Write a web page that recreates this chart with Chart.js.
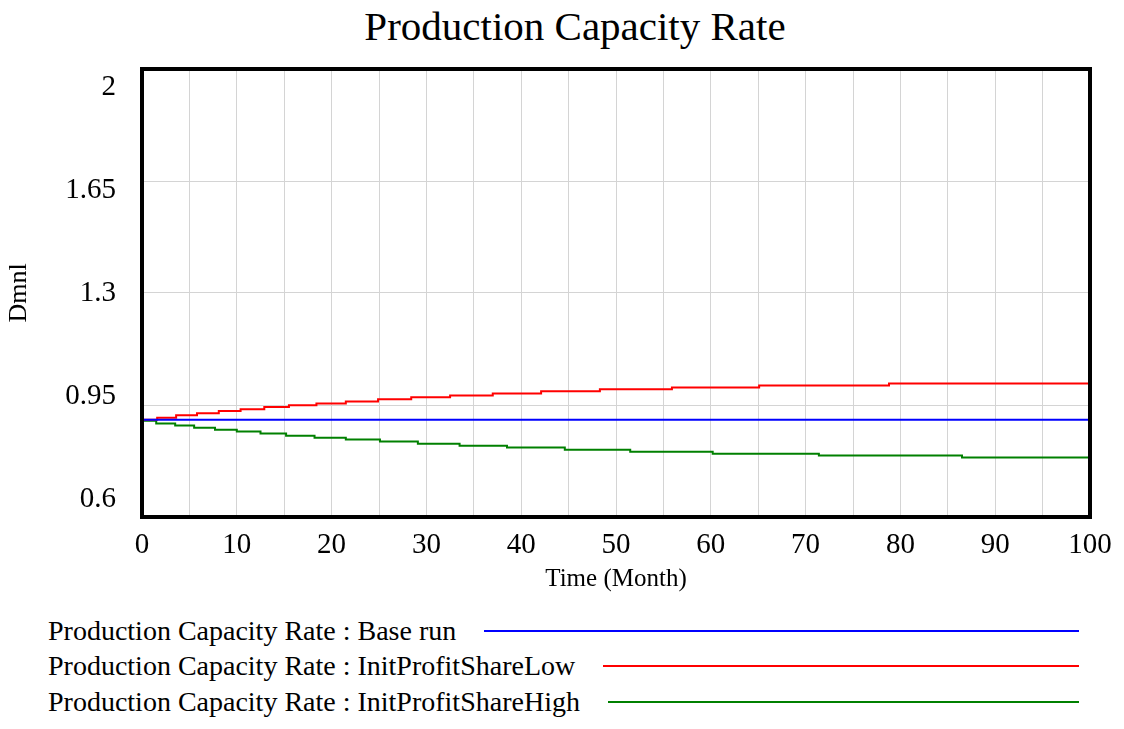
<!DOCTYPE html>
<html>
<head>
<meta charset="utf-8">
<script src="https://cdn.jsdelivr.net/npm/chart.js@4/dist/chart.umd.min.js"></script>
<style>
  body { margin: 0; background: #fff; width: 1124px; height: 729px; overflow: hidden; position: relative; font-family: "Liberation Serif", "Times New Roman", serif; }
  #title { position: absolute; left: 0; width: 1150px; top: 3px; text-align: center; font-size: 41px; line-height: 46px; color: #000; }
  #wrap { position: absolute; left: 0; top: 0; width: 1124px; height: 600px; }
  #legend { position: absolute; left: 48px; top: 613px; width: 1031px; font-size: 28px; color: #000; }
  .row { display: flex; align-items: center; height: 35.5px; }
  .row span.line { flex: 1; margin-left: 28px; height: 0; border-top: 2px solid; }
</style>
</head>
<body>
<div id="title">Production Capacity Rate</div>
<div id="wrap"><canvas id="chart"></canvas></div>
<div id="legend"></div>
<script>
// x axis: Time (Month)
const xMin = 0;
const xMax = 100;
const yTicks = [0.6, 0.95, 1.3, 1.65, 2];

// step times and the value after each step
const baseTimes = [0, 100];
const baseValues = [0.904, 0.904];

const lowTimes = [0, 1.6, 3.6, 5.8, 8.1, 10.4, 12.9, 15.5, 18.4, 21.5, 24.9, 28.4, 32.5, 37, 42.1, 48.3, 55.9, 65.1, 78.8, 100];
const lowValues = [0.904, 0.910, 0.918, 0.924, 0.931, 0.937, 0.944, 0.949, 0.955, 0.961, 0.968, 0.974, 0.980, 0.986, 0.993, 0.999, 1.005, 1.011, 1.017, 1.017];

const highTimes = [0, 1.5, 3.5, 5.5, 7.7, 10, 12.5, 15.2, 18.2, 21.5, 25.1, 29.1, 33.5, 38.5, 44.6, 51.5, 60.2, 71.4, 86.5, 100];
const highValues = [0.901, 0.892, 0.886, 0.879, 0.873, 0.867, 0.861, 0.854, 0.848, 0.842, 0.836, 0.829, 0.823, 0.817, 0.810, 0.804, 0.798, 0.792, 0.786, 0.786];

const seriesNames = [
  'Production Capacity Rate : Base run',
  'Production Capacity Rate : InitProfitShareLow',
  'Production Capacity Rate : InitProfitShareHigh'
];
const seriesColors = ['#0000ff', '#ff0000', '#008000'];

function pts(ts, vs) { return ts.map((t, i) => ({ x: t, y: vs[i] })); }

const serif = '"Liberation Serif", "Times New Roman", serif';

// thick black frame round the plot
const frame = {
  id: 'frame',
  afterDatasetsDraw(chart) {
    const a = chart.chartArea, ctx = chart.ctx;
    ctx.save();
    ctx.strokeStyle = '#000';
    ctx.lineWidth = 4;
    ctx.strokeRect(a.left, a.top, a.right - a.left, a.bottom - a.top);
    ctx.restore();
  }
};

new Chart('chart', {
  type: 'line',
  data: {
    datasets: [
      { label: seriesNames[0], data: pts(baseTimes, baseValues), borderColor: seriesColors[0] },
      { label: seriesNames[1], data: pts(lowTimes, lowValues), borderColor: seriesColors[1] },
      { label: seriesNames[2], data: pts(highTimes, highValues), borderColor: seriesColors[2] }
    ]
  },
  options: {
    responsive: true,
    maintainAspectRatio: false,
    animation: false,
    layout: { padding: { top: 69, right: 34, bottom: 0, left: 0 } },
    elements: {
      line: { borderWidth: 2, stepped: 'before', tension: 0, fill: false },
      point: { radius: 0 }
    },
    plugins: { legend: { display: false }, tooltip: { enabled: false } },
    scales: {
      x: {
        type: 'linear', min: xMin, max: xMax,
        grid: { color: '#d4d4d4', drawTicks: false },
        border: { display: false },
        ticks: {
          stepSize: 5, autoSkip: false, maxRotation: 0, padding: 11,
          color: '#000', font: { family: serif, size: 29 },
          callback: v => (v % 10 === 0 ? v : '')
        },
        title: { display: true, text: 'Time (Month)', color: '#000', font: { family: serif, size: 25 }, padding: { top: 0, bottom: 6 } },
        afterFit(s) { s.height = 83; }
      },
      y: {
        type: 'linear', min: 0.6, max: 2,
        grid: { color: '#d4d4d4', drawTicks: false },
        border: { display: false },
        ticks: { display: false },
        afterBuildTicks(s) { s.ticks = yTicks.map(v => ({ value: v })); },
        afterFit(s) { s.width = 0; }
      },
      yl: {
        type: 'linear', position: 'left', min: 0.5385, max: 2.0632,
        grid: { display: false },
        border: { display: false },
        ticks: {
          padding: 18, color: '#000', font: { family: serif, size: 29 },
          callback: v => String(+v.toFixed(2))
        },
        afterBuildTicks(s) { s.ticks = yTicks.map(v => ({ value: v })); },
        title: { display: true, text: 'Dmnl', color: '#000', font: { family: serif, size: 26 } },
        afterFit(s) { s.width = 142; }
      }
    }
  },
  plugins: [frame]
});

const leg = document.getElementById('legend');
seriesNames.forEach((n, i) => {
  const r = document.createElement('div');
  r.className = 'row';
  r.innerHTML = '<span>' + n + '</span><span class="line" style="border-color:' + seriesColors[i] + '"></span>';
  leg.appendChild(r);
});
</script>
</body>
</html>
